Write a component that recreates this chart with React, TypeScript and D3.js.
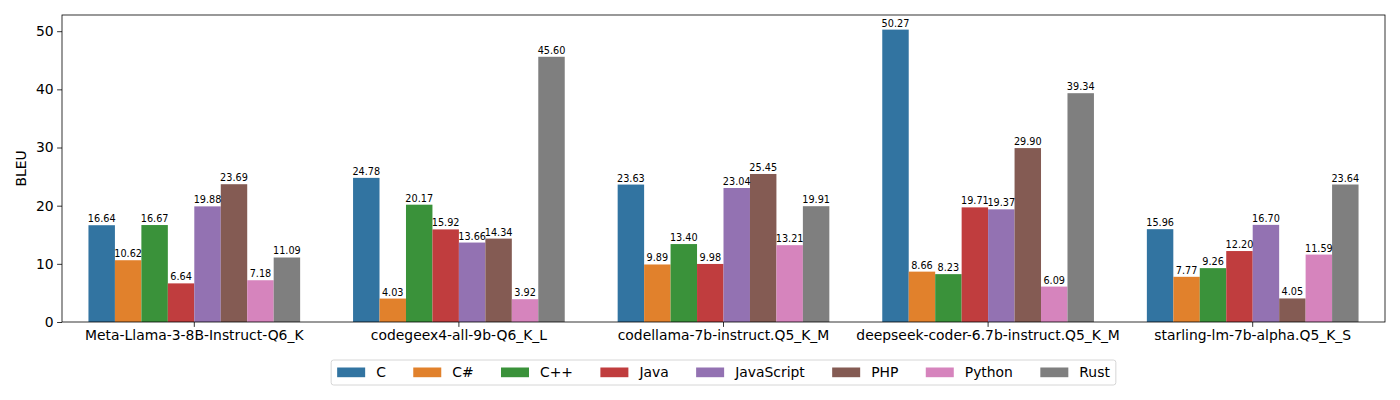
import React, { useEffect, useRef } from "react";
import * as d3 from "d3";

const models = [
  "Meta-Llama-3-8B-Instruct-Q6_K",
  "codegeex4-all-9b-Q6_K_L",
  "codellama-7b-instruct.Q5_K_M",
  "deepseek-coder-6.7b-instruct.Q5_K_M",
  "starling-lm-7b-alpha.Q5_K_S",
];
const languages = ["C", "C#", "C++", "Java", "JavaScript", "PHP", "Python", "Rust"];
const colors = ["#3274a1", "#e1812c", "#3a923a", "#c03d3e", "#9372b2", "#845b53", "#d684bd", "#7f7f7f"];

// one array per language, in the order of models
const cScores = [16.64, 24.78, 23.63, 50.27, 15.96];
const csharpScores = [10.62, 4.03, 9.89, 8.66, 7.77];
const cppScores = [16.67, 20.17, 13.4, 8.23, 9.26];
const javaScores = [6.64, 15.92, 9.98, 19.71, 12.2];
const jsScores = [19.88, 13.66, 23.04, 19.37, 16.7];
const phpScores = [23.69, 14.34, 25.45, 29.9, 4.05];
const pythonScores = [7.18, 3.92, 13.21, 6.09, 11.59];
const rustScores = [11.09, 45.6, 19.91, 39.34, 23.64];
const yTicks = [0, 10, 20, 30, 40, 50];

const series = [cScores, csharpScores, cppScores, javaScores, jsScores, phpScores, pythonScores, rustScores];

const App = () => {
  const ref = useRef<SVGSVGElement>(null);

  useEffect(() => {
    const svg = d3.select(ref.current);
    svg.selectAll("*").remove();
    const font = "DejaVu Sans";

    const left = 62, right = 1385, top = 15, bottom = 322;
    const x = d3.scaleBand().domain(models).range([left, right]).paddingInner(0.2).paddingOuter(0.1);
    const inner = d3.scaleBand().domain(languages).range([0, x.bandwidth()]);
    const maxVal = d3.max(series.flat()) as number;
    const y = d3.scaleLinear().domain([0, maxVal * 1.05]).range([bottom, top]);

    const rows = series.flatMap((vals, li) =>
      vals.map((v, mi) => ({ lang: languages[li], model: models[mi], v, color: colors[li] }))
    );

    const bars = svg.append("g");
    bars.selectAll("rect").data(rows).join("rect")
      .attr("x", (d) => (x(d.model) as number) + (inner(d.lang) as number))
      .attr("y", (d) => y(d.v))
      .attr("width", inner.bandwidth())
      .attr("height", (d) => bottom - y(d.v))
      .attr("fill", (d) => d.color);

    bars.selectAll("text").data(rows).join("text")
      .attr("x", (d) => (x(d.model) as number) + (inner(d.lang) as number) + inner.bandwidth() / 2)
      .attr("y", (d) => y(d.v) - 3)
      .attr("text-anchor", "middle")
      .attr("font-family", font)
      .attr("font-size", 9.7)
      .attr("fill", "#000")
      .text((d) => d.v.toFixed(2));

    // axes
    const yAxis = d3.axisLeft(y).tickValues(yTicks).tickSize(4.9).tickPadding(3.5);
    const gy = svg.append("g").attr("transform", `translate(${left},0)`).call(yAxis);
    const xAxis = d3.axisBottom(x).tickSize(4.9).tickPadding(3.5);
    const gx = svg.append("g").attr("transform", `translate(0,${bottom})`).call(xAxis);
    [gy, gx].forEach((g) => {
      g.select(".domain").remove();
      g.selectAll("line").attr("stroke", "#000").attr("stroke-width", 0.8);
      g.selectAll("text").attr("font-family", font).attr("font-size", 13.9).attr("fill", "#000");
    });

    svg.append("rect")
      .attr("x", left).attr("y", top).attr("width", right - left).attr("height", bottom - top)
      .attr("fill", "none").attr("stroke", "#000").attr("stroke-width", 0.8);

    svg.append("text")
      .attr("transform", `translate(26,${(top + bottom) / 2}) rotate(-90)`)
      .attr("text-anchor", "middle")
      .attr("font-family", font)
      .attr("font-size", 13.9)
      .text("BLEU");

    // legend
    const lg = svg.append("g");
    const frame = lg.append("rect");
    const handle = 28, pad = 11, gap = 27.4;
    const labels = languages.map((l) =>
      lg.append("text").attr("font-family", font).attr("font-size", 13.9).attr("y", 377).text(l)
    );
    const widths = labels.map((t) => (t.node() as SVGTextElement).getComputedTextLength());
    const total = d3.sum(widths) + languages.length * (handle + pad) + (languages.length - 1) * gap;
    let cx = (left + right) / 2 - total / 2;
    const x0 = cx;
    languages.forEach((l, i) => {
      lg.append("rect").attr("x", cx).attr("y", 367.5).attr("width", handle).attr("height", 9.7).attr("fill", colors[i]);
      labels[i].attr("x", cx + handle + pad);
      cx += handle + pad + widths[i] + gap;
    });
    frame.attr("x", x0 - 6).attr("y", 360).attr("width", total + 12).attr("height", 25)
      .attr("rx", 2.5).attr("fill", "#fff").attr("fill-opacity", 0.8)
      .attr("stroke", "#cccccc").attr("stroke-width", 0.8);
  }, []);

  return <svg ref={ref} width={1400} height={400} style={{ display: "block", margin: -8 }} />;
};

export default App;
